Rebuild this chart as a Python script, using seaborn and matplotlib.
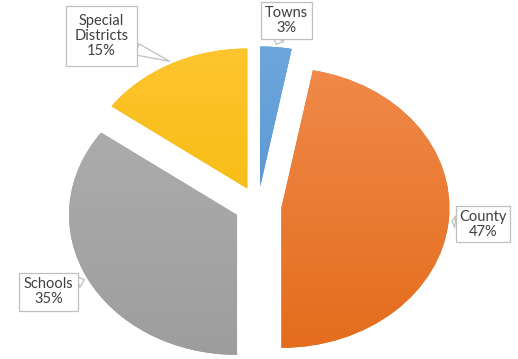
import numpy as np
import matplotlib
matplotlib.use("Agg")
import matplotlib.pyplot as plt
import seaborn as sns

# ---- data ----
categories = ["Towns", "County", "Schools", "Special\nDistricts"]
shares = [3, 47, 35, 15]
pct_labels = ["3%", "47%", "35%", "15%"]

# ---- styles ----
top_colors = ["#6FA7DC", "#F08A4B", "#B0B0B0", "#FFC52F"]
bottom_colors = ["#4A8CCE", "#E46C1C", "#9D9D9D", "#EFB600"]
explode = [0.14, 0.14, 0.14, 0.14]
label_offsets_px = [(10, 24), (31, -3), (-36, -12), (-68, 25)]
label_pads = [0.25, 0.25, 0.3, 0.55]

sns.set_theme(style="white")
plt.rcParams["font.family"] = ["Lato", "DejaVu Sans"]

fig = plt.figure(figsize=(5.18, 3.59), dpi=100)
ax = fig.add_axes([0, 0, 1, 1])

wedges, _ = ax.pie(shares, explode=explode, startangle=90, counterclock=False,
                   colors=bottom_colors, radius=1.0,
                   wedgeprops=dict(linewidth=0))

xlim = (-258 / 168, (518 - 258) / 168)
ylim = (-(359 - 206) / 140, 206 / 140)

grad = np.linspace(0, 1, 256).reshape(-1, 1)
for w, tc, bc in zip(wedges, top_colors, bottom_colors):
    cmap = sns.blend_palette([tc, bc], as_cmap=True)
    cx, cy = w.center
    im = ax.imshow(grad, cmap=cmap, aspect="auto", origin="upper",
                   extent=(cx - 1.05, cx + 1.05, cy - 1.05, cy + 1.05),
                   interpolation="bilinear", zorder=2)
    im.set_clip_path(w)

# labels with callouts
total = sum(shares)
start = 0.0
for i, (w, cat, pct) in enumerate(zip(wedges, categories, pct_labels)):
    frac = shares[i] / total
    mid = (start + frac / 2) * 2 * np.pi  # clockwise from top
    start += frac
    cx, cy = w.center
    tip = (cx + 1.02 * np.sin(mid), cy + 1.02 * np.cos(mid))
    ax.annotate(f"{cat}\n{pct}", xy=tip, xytext=label_offsets_px[i],
                textcoords="offset pixels", ha="center", va="center",
                fontsize=10.5, color="#404040", linespacing=1.1, zorder=5,
                bbox=dict(boxstyle=f"square,pad={label_pads[i]}", fc="white",
                          ec="#BFBFBF", lw=0.9),
                arrowprops=dict(arrowstyle="wedge,tail_width=0.8,shrink_factor=0.5",
                                fc="white", ec="#BFBFBF", lw=0.9,
                                shrinkA=0, shrinkB=0))

ax.set_xlim(*xlim)
ax.set_ylim(*ylim)
ax.set_aspect("auto")
ax.axis("off")
fig.savefig("out.png", dpi=100, facecolor="white")
